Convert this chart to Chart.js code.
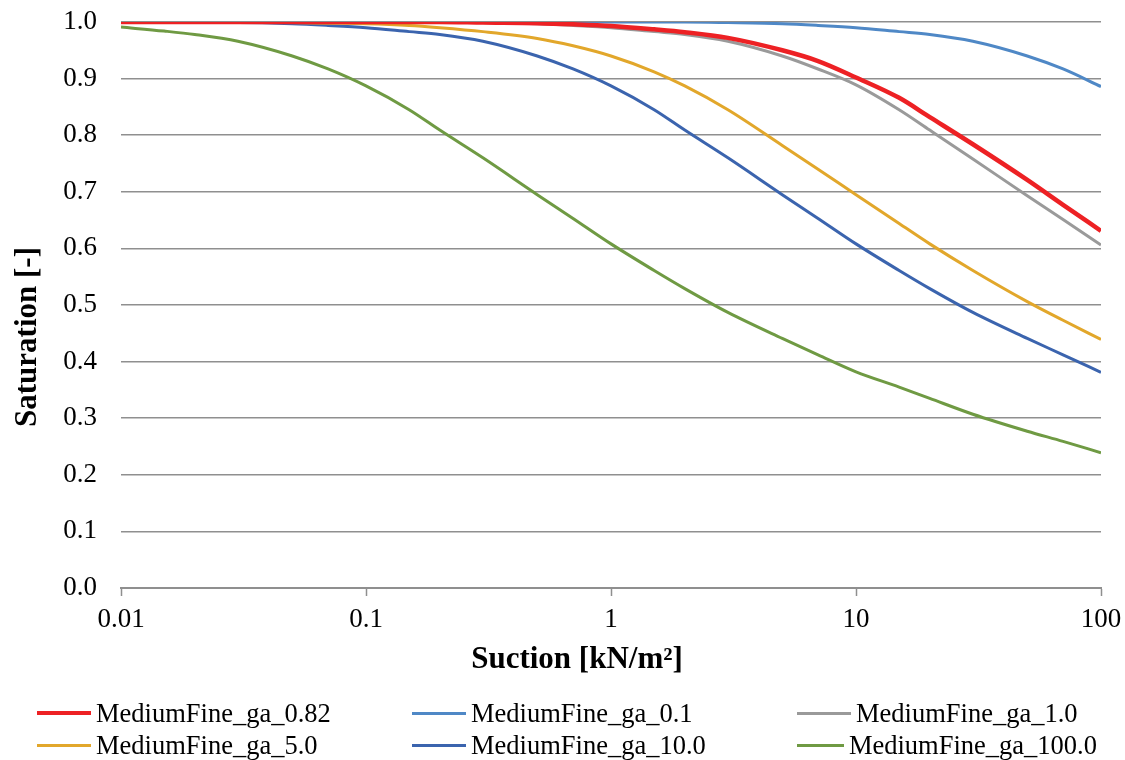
<!DOCTYPE html>
<html>
<head>
<meta charset="utf-8">
<script src="https://cdn.jsdelivr.net/npm/chart.js@4.4.1/dist/chart.umd.min.js"></script>
<style>
  body { margin: 0; background: #fff; }
  #wrap { position: relative; width: 1125px; height: 760px; }
  #legend {
    position: absolute; left: 37px; top: 697px; width: 1088px;
    display: grid; grid-template-columns: 375px 385px 300px;
    font-family: "Liberation Serif", "Times New Roman", serif; font-size: 26.5px; color: #000;
  }
  .item { display: flex; align-items: center; height: 32px; white-space: nowrap; }
  .swatch { width: 54px; margin-right: 5px; }
</style>
</head>
<body>
<div id="wrap">
  <canvas id="myChart" width="1125" height="760"></canvas>
  <div id="legend"></div>
</div>
<script>
// suction values the curves were read at [kN/m2]
const suction = [0.01, 0.015, 0.02, 0.03, 0.05, 0.07, 0.1, 0.15, 0.2, 0.3, 0.5, 0.7,
                 1, 1.5, 2, 3, 5, 7, 10, 15, 20, 30, 50, 70, 100];

const ga082 = [1.000, 1.000, 1.000, 1.000, 1.000, 1.000, 1.000, 1.000, 1.000, 0.999, 0.998, 0.996,
               0.993, 0.987, 0.982, 0.972, 0.950, 0.931, 0.902, 0.866, 0.832, 0.784, 0.721, 0.677, 0.631];
const ga01 = [1.000, 1.000, 1.000, 1.000, 1.000, 1.000, 1.000, 1.000, 1.000, 1.000, 1.000, 1.000,
              1.000, 1.000, 1.000, 0.999, 0.997, 0.994, 0.990, 0.983, 0.978, 0.966, 0.940, 0.917, 0.886];
const ga10 = [1.000, 1.000, 1.000, 1.000, 1.000, 1.000, 1.000, 1.000, 1.000, 0.999, 0.997, 0.994,
              0.990, 0.983, 0.978, 0.966, 0.940, 0.917, 0.889, 0.845, 0.809, 0.758, 0.693, 0.651, 0.606];
const ga50 = [1.000, 1.000, 1.000, 1.000, 0.999, 0.998, 0.997, 0.994, 0.990, 0.983, 0.971, 0.958,
              0.940, 0.912, 0.887, 0.845, 0.782, 0.740, 0.695, 0.644, 0.608, 0.561, 0.506, 0.473, 0.439];
const ga100 = [1.000, 1.000, 0.999, 0.999, 0.997, 0.994, 0.990, 0.983, 0.978, 0.966, 0.940, 0.917,
               0.887, 0.845, 0.809, 0.760, 0.695, 0.653, 0.608, 0.561, 0.529, 0.487, 0.441, 0.412, 0.381];
const ga1000 = [0.991, 0.984, 0.978, 0.966, 0.940, 0.917, 0.887, 0.845, 0.809, 0.760, 0.695, 0.653,
                0.608, 0.561, 0.529, 0.487, 0.441, 0.412, 0.382, 0.355, 0.335, 0.307, 0.277, 0.259, 0.239];

const seriesNames = ['MediumFine_ga_0.82', 'MediumFine_ga_0.1', 'MediumFine_ga_1.0',
                     'MediumFine_ga_5.0', 'MediumFine_ga_10.0', 'MediumFine_ga_100.0'];
const seriesValues = [ga082, ga01, ga10, ga50, ga100, ga1000];
const seriesColors = ['#ED2124', '#4F88C6', '#9A9A9A', '#E2A72B', '#3B64AE', '#6F9A43'];
const seriesWidths = [4.5, 3, 3, 3, 3, 3];

const xTicks = [0.01, 0.1, 1, 10, 100];
const xTitle = 'Suction [kN/m²]';
const yTitle = 'Saturation [-]';

const serif = '"Liberation Serif", "Times New Roman", serif';
const gridColor = '#8f8f8f';

const datasets = seriesNames.map((name, i) => ({
  label: name,
  data: suction.map((s, j) => ({ x: s, y: seriesValues[i][j] })),
  borderColor: seriesColors[i],
  backgroundColor: seriesColors[i],
  borderWidth: seriesWidths[i],
  pointRadius: 0,
  showLine: true,
  cubicInterpolationMode: 'monotone',
}));

// draws the axis titles where the original has them
const axisTitles = {
  id: 'axisTitles',
  afterDraw(chart) {
    const ctx = chart.ctx;
    const area = chart.chartArea;
    ctx.save();
    ctx.fillStyle = '#000';
    ctx.font = 'bold 31px ' + serif;
    ctx.textAlign = 'center';
    ctx.textBaseline = 'middle';
    ctx.fillText(xTitle, (area.left + area.right) / 2 - 34, area.bottom + 72);
    ctx.translate(28, (area.top + area.bottom) / 2 + 32);
    ctx.rotate(-Math.PI / 2);
    ctx.fillText(yTitle, 0, 0);
    ctx.restore();
  }
};

new Chart('myChart', {
  type: 'scatter',
  data: { datasets: datasets },
  plugins: [axisTitles],
  options: {
    responsive: false,
    animation: false,
    layout: { padding: { top: 22, right: 24, bottom: 132, left: 0 } },
    plugins: { legend: { display: false }, tooltip: { enabled: false } },
    scales: {
      x: {
        type: 'logarithmic',
        min: 0.01,
        max: 100,
        afterBuildTicks: (scale) => { scale.ticks = xTicks.map(v => ({ value: v })); },
        afterFit: (scale) => {
          scale.height = 40;
          scale.paddingLeft = 0;
          scale.paddingRight = 0;
        },
        ticks: {
          color: '#000',
          font: { family: serif, size: 27 },
          padding: 8,
          maxRotation: 0,
          autoSkip: false,
          callback: (v) => String(v),
        },
        grid: { drawOnChartArea: false, drawTicks: true, tickLength: 8, tickColor: gridColor, tickWidth: 1.5 },
        border: { display: true, color: gridColor, width: 2 },
      },
      y: {
        min: 0,
        max: 1,
        afterFit: (scale) => {
          scale.width = 121;
          scale.paddingTop = 0;
          scale.paddingBottom = 0;
        },
        ticks: {
          stepSize: 0.1,
          color: '#000',
          font: { family: serif, size: 27 },
          padding: 24,
          callback: (v) => v.toFixed(1),
        },
        grid: { color: gridColor, lineWidth: 1.5, drawTicks: false },
        border: { display: false },
      },
    },
  },
});

// legend laid out in three fixed columns like the original
const legend = document.getElementById('legend');
seriesNames.forEach((name, i) => {
  const item = document.createElement('div');
  item.className = 'item';
  const sw = document.createElement('span');
  sw.className = 'swatch';
  sw.style.borderTop = (i === 0 ? 4 : 3) + 'px solid ' + seriesColors[i];
  item.appendChild(sw);
  item.appendChild(document.createTextNode(name));
  legend.appendChild(item);
});
</script>
</body>
</html>
